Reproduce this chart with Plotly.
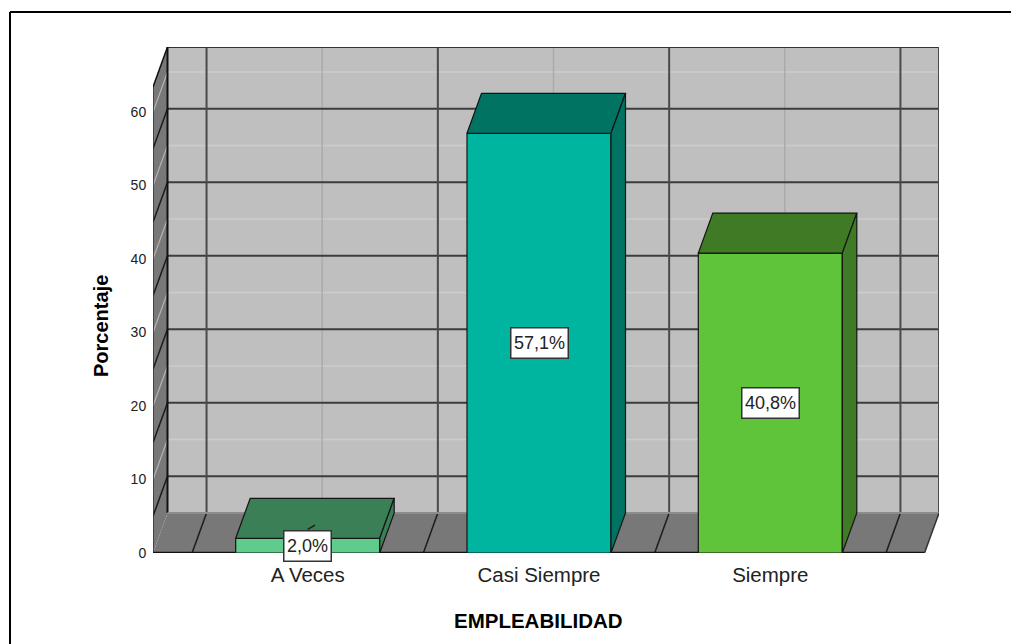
import plotly.graph_objects as go

categories = ["A Veces", "Casi Siempre", "Siempre"]
values = [2.0, 57.1, 40.8]
value_labels = ["2,0%", "57,1%", "40,8%"]
front_colors = ["#5FCC8C", "#00B5A0", "#60C43A"]
top_colors = ["#3A7F55", "#007363", "#3F7A25"]
side_colors = ["#3A7F55", "#007363", "#3F7A25"]
y_ticks = [0, 10, 20, 30, 40, 50, 60]

# layout constants (pixels)
W, H = 1011, 644
L, R, T, B = 153, 939, 47, 553
PX_PER_CAT = 231.3
PX_PER_VAL = 7.35
X0_PX = 307.7
DX = 14.5 / PX_PER_CAT   # depth offset, category units
DY = 40 / PX_PER_VAL     # depth offset, value units
XMIN = (L - X0_PX) / PX_PER_CAT
XMAX = (R - X0_PX) / PX_PER_CAT
YMAX = (B - T) / PX_PER_VAL
WALL_TOP = YMAX - DY
BAR_W = 144 / PX_PER_CAT
XFRONT_R = XMAX - DX
EDGE = "#141414"

fig = go.Figure()

# front faces
fig.add_trace(go.Bar(
    x=list(range(len(categories))), y=values, width=BAR_W,
    marker=dict(color=front_colors, line=dict(color=EDGE, width=1.2)),
    hoverinfo="skip", showlegend=False,
))

# top + side faces
for i, v in enumerate(values):
    a, b = i - BAR_W / 2, i + BAR_W / 2
    fig.add_trace(go.Scatter(
        x=[a, b, b + DX, a + DX, a], y=[v, v, v + DY, v + DY, v],
        mode="lines", fill="toself", fillcolor=top_colors[i],
        line=dict(color=EDGE, width=1.2), hoverinfo="skip", showlegend=False))
    fig.add_trace(go.Scatter(
        x=[b, b + DX, b + DX, b, b], y=[0, DY, v + DY, v, 0],
        mode="lines", fill="toself", fillcolor=side_colors[i],
        line=dict(color=EDGE, width=1.2), hoverinfo="skip", showlegend=False))

shapes = []


def poly(xs, ys, fill, line=None, width=0):
    path = "M " + " L ".join(f"{x},{y}" for x, y in zip(xs, ys)) + " Z"
    shapes.append(dict(type="path", path=path, xref="x", yref="y", layer="below",
                       fillcolor=fill, line=dict(color=line or fill, width=width)))


def seg(x0, y0, x1, y1, color, width):
    shapes.append(dict(type="line", x0=x0, y0=y0, x1=x1, y1=y1, xref="x", yref="y",
                       layer="below", line=dict(color=color, width=width)))


# walls
poly([XMIN + DX, XMAX, XMAX, XMIN + DX], [DY, DY, YMAX, YMAX], "#BFBFBF")
poly([XMIN, XMIN + DX, XMIN + DX, XMIN], [0, DY, YMAX, WALL_TOP], "#787878")
poly([XMIN, XFRONT_R, XMAX, XMIN + DX], [0, 0, DY, DY], "#787878")

# light minor grid (value multiples of 10, category centres)
for t in y_ticks[1:]:
    seg(XMIN + DX, t + DY, XMAX, t + DY, "#CDCDCD", 1.5)
    seg(XMIN, t, XMIN + DX, t + DY, "#B4B4B4", 1.2)
for i in range(len(categories)):
    seg(i + DX, DY, i + DX, YMAX, "#ABABAB", 1.5)

# dark major grid
for t in range(5, 60, 10):
    seg(XMIN + DX, t + DY, XMAX, t + DY, "#3C3C3C", 2)
    seg(XMIN, t, XMIN + DX, t + DY, "#1c1c1c", 1.5)
for i in range(4):
    c = i - 0.5
    seg(c + DX, DY, c + DX, YMAX, "#4A4A4A", 2)
    seg(c, 0, c + DX, DY, "#1c1c1c", 1.5)

# outlines
seg(XMIN + DX, YMAX, XMAX, YMAX, "#333333", 2)
seg(XMAX, DY, XMAX, YMAX, "#4A4A4A", 2)
seg(XMIN + DX, DY, XMIN + DX, YMAX, "#111111", 2)
seg(XMIN, 0, XMIN, WALL_TOP, "#333333", 1.5)
seg(XMIN, WALL_TOP, XMIN + DX, YMAX, "#111111", 1.5)
seg(XMIN + DX, DY, XMAX, DY, "#8C8C8C", 2)
seg(XMIN, 0, XFRONT_R, 0, "#111111", 2.5)
seg(XFRONT_R, 0, XMAX, DY, "#333333", 1.5)

# leader stub of the first label
shapes.append(dict(type="line", x0=0, y0=values[0] / 2 + 2.2, x1=DX / 2, y1=values[0] / 2 + 2.8,
                   xref="x", yref="y", line=dict(color="#1c1c1c", width=1.5)))


def px(v):
    return (v - L) / (R - L)


def py(v):
    return (B - v) / (B - T)


# outer frame (top and left only reach the picture edge)
shapes.append(dict(type="line", xref="paper", yref="paper", x0=px(10), x1=px(W), y0=py(12), y1=py(12),
                   line=dict(color="#000000", width=2)))
shapes.append(dict(type="line", xref="paper", yref="paper", x0=px(10), x1=px(10), y0=py(12), y1=py(H),
                   line=dict(color="#000000", width=2)))

annotations = [
    dict(x=i, y=v / 2, text=value_labels[i], showarrow=False, xref="x", yref="y",
         font=dict(family="Liberation Sans", size=18, color="#222222"),
         height=24, bgcolor="white", bordercolor="#333333", borderwidth=1.5, borderpad=2.5)
    for i, v in enumerate(values)
]
annotations.append(dict(
    text="<b>EMPLEABILIDAD</b>", x=px(538.5), y=py(620), xref="paper", yref="paper", showarrow=False,
    xanchor="center", yanchor="middle",
    font=dict(family="Liberation Sans", size=20.5, color="#000000")))
annotations.append(dict(
    text="<b>Porcentaje</b>", x=px(101), y=py(326), xref="paper", yref="paper", showarrow=False,
    xanchor="center", yanchor="middle",
    textangle=-90, font=dict(family="Liberation Sans", size=20, color="#000000")))

fig.update_layout(
    width=W, height=H, autosize=False,
    margin=dict(l=L, r=W - R, t=T, b=H - B),
    paper_bgcolor="white", plot_bgcolor="white",
    showlegend=False, shapes=shapes, annotations=annotations,
    font=dict(family="Liberation Sans", color="#222222"),
    xaxis=dict(range=[XMIN, XMAX], tickmode="array", tickvals=list(range(len(categories))),
               ticktext=categories, showgrid=False, zeroline=False, showline=False,
               ticks="outside", ticklen=3, tickcolor="rgba(0,0,0,0)", tickfont=dict(size=20.5),
               automargin=False),
    yaxis=dict(range=[0, YMAX], tickmode="array", tickvals=y_ticks, showgrid=False, zeroline=False,
               showline=False, ticks="outside", ticklen=3, tickcolor="rgba(0,0,0,0)", tickfont=dict(size=14),
               automargin=False),
)

fig.write_html("out.html", post_script="document.body.style.margin='0';",
               config={"displayModeBar": False})
